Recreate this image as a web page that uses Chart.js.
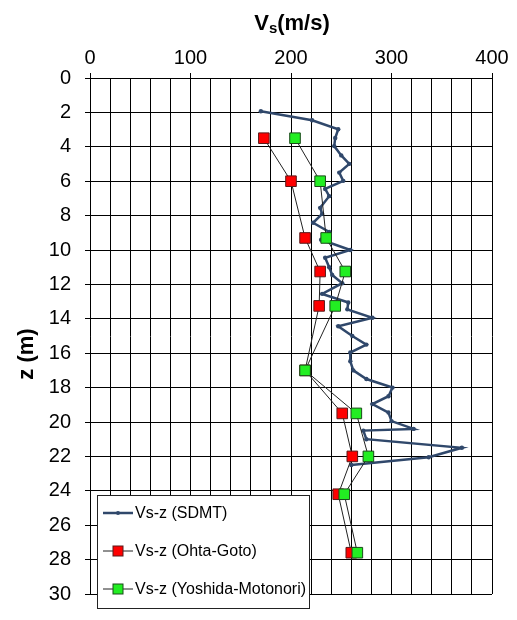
<!DOCTYPE html>
<html><head><meta charset="utf-8">
<script src="https://cdn.jsdelivr.net/npm/chart.js@4.4.0/dist/chart.umd.min.js"></script>
<style>html,body{margin:0;padding:0;background:#fff;}#wrap{position:relative;width:517px;height:620px;}</style>
</head><body><div id="wrap"><canvas id="c" width="517" height="620"></canvas></div>
<script>
// ---- data ----
const seriesLabels = ['Vs-z (SDMT)', 'Vs-z (Ohta-Goto)', 'Vs-z (Yoshida-Motonori)'];
const sdmtDepth = [1.93,2.46,2.98,3.49,3.96,4.5,4.99,5.5,5.98,6.45,6.87,7.55,7.9,8.42,8.95,9.4,10.0,10.45,11.0,11.45,11.93,12.55,13.05,13.45,13.94,14.43,15.0,15.5,15.96,16.47,17.0,17.5,18.0,18.5,18.96,19.45,19.95,20.4,20.5,21.0,21.5,22.05,22.5];
const sdmtVs    = [170,221,247,244,243,250,258,248,252,234,238,229,231,222,238,230,259,234,238,241,251,231,257,256,281,247,261,275,259,259,262,275,301,297,281,297,300,322,272,275,370,337,260];
const empDepth  = [3.5,6.0,9.3,11.25,13.25,17.0,19.5,22.0,24.2,27.6];
const ohtaVs    = [173,200,214,229,228,214,251,261,247,260];
const yoshidaVs = [204,229,235,254,244,214,265,277,253,266];
const xMin = 0, xMax = 400, xGridStep = 20, xLabelStep = 100;
const yMin = 0, yMax = 30, yStep = 2;
const xTitleParts = ['V', 's', '(m/s)'];
const yTitleText = 'z (m)';

const pts = (ys, xs) => ys.map((z, i) => ({x: xs[i], y: z}));
const FONT = "'Liberation Sans', Arial, sans-serif";

const titlePlugin = {
  id: 'titles',
  afterDraw(chart) {
    const ctx = chart.ctx;
    ctx.save();
    ctx.fillStyle = '#000';
    ctx.textBaseline = 'alphabetic';
    ctx.textAlign = 'left';
    const big = 'bold 22px ' + FONT, small = 'bold 15px ' + FONT;
    ctx.font = big; const w1 = ctx.measureText(xTitleParts[0]).width, w3 = ctx.measureText(xTitleParts[2]).width;
    ctx.font = small; const w2 = ctx.measureText(xTitleParts[1]).width;
    let x = 292 - (w1 + w2 + w3) / 2; const base = 30;
    ctx.font = big; ctx.fillText(xTitleParts[0], x, base); x += w1;
    ctx.font = small; ctx.fillText(xTitleParts[1], x, base + 3); x += w2;
    ctx.font = big; ctx.fillText(xTitleParts[2], x, base);
    ctx.translate(27, 354); ctx.rotate(-Math.PI / 2);
    ctx.textAlign = 'center'; ctx.textBaseline = 'middle';
    ctx.font = big; ctx.fillText(yTitleText, 0, 0);
    ctx.restore();
  }
};

const legendPlugin = {
  id: 'inLegend',
  afterDatasetsDraw(chart) {
    const ctx = chart.ctx;
    ctx.save();
    ctx.fillStyle = '#fff'; ctx.strokeStyle = '#222'; ctx.lineWidth = 1;
    ctx.fillRect(97.5, 495.5, 212, 113); ctx.strokeRect(97.5, 495.5, 212, 113);
    chart.data.datasets.forEach((ds, i) => {
      const y = 513 + i * 38;
      ctx.strokeStyle = ds.borderColor; ctx.lineWidth = ds.borderWidth;
      ctx.beginPath(); ctx.moveTo(103, y); ctx.lineTo(133, y); ctx.stroke();
      ctx.fillStyle = ds.pointBackgroundColor; ctx.strokeStyle = ds.pointBorderColor; ctx.lineWidth = ds.pointBorderWidth;
      if (ds.pointStyle === 'rect') {
        ctx.fillRect(113, y - 5, 10, 10); ctx.strokeRect(113, y - 5, 10, 10);
      } else {
        ctx.beginPath(); ctx.arc(118, y, 2, 0, Math.PI * 2); ctx.fill();
      }
      ctx.fillStyle = '#000'; ctx.font = '16px ' + FONT; ctx.textBaseline = 'middle'; ctx.textAlign = 'left';
      ctx.fillText(ds.label, 135, y + 1);
    });
    ctx.restore();
  }
};

new Chart(document.getElementById('c'), {
  type: 'scatter',
  data: {
    datasets: [
      { label: seriesLabels[0], data: pts(sdmtDepth, sdmtVs), showLine: true, borderColor: '#30486b', borderWidth: 2.5,
        pointStyle: 'circle', pointRadius: 2.2, pointBackgroundColor: '#30486b', pointBorderColor: '#30486b', pointBorderWidth: 0, order: 2 },
      { label: seriesLabels[1], data: pts(empDepth, ohtaVs), showLine: true, borderColor: '#222', borderWidth: 1,
        pointStyle: 'rect', pointRadius: 7.5, pointBackgroundColor: '#ff0000', pointBorderColor: '#5a1a1a', pointBorderWidth: 1, order: 1 },
      { label: seriesLabels[2], data: pts(empDepth, yoshidaVs), showLine: true, borderColor: '#222', borderWidth: 1,
        pointStyle: 'rect', pointRadius: 7.5, pointBackgroundColor: '#22ee22', pointBorderColor: '#1a4a1a', pointBorderWidth: 1, order: 0 }
    ]
  },
  options: {
    responsive: false, animation: false, devicePixelRatio: 1,
    layout: { padding: { left: 0, top: 0, right: 25, bottom: 9 } },
    plugins: { legend: { display: false }, tooltip: { enabled: false } },
    scales: {
      x: {
        type: 'linear', position: 'top', min: xMin, max: xMax,
        ticks: { stepSize: xGridStep, autoSkip: false, maxRotation: 0, padding: 3, color: '#000',
          font: { size: 20, family: FONT },
          callback: v => (v % xLabelStep === 0 ? v : '') },
        grid: { color: '#000', lineWidth: 1, tickLength: 5,
          tickColor: c => (c.tick && c.tick.value % xLabelStep === 0 ? '#000' : 'rgba(0,0,0,0)') },
        border: { color: '#000' },
        afterFit: s => { s.height = 78; }
      },
      y: {
        type: 'linear', reverse: true, min: yMin, max: yMax,
        ticks: { stepSize: yStep, autoSkip: false, padding: 14, color: '#000', font: { size: 20, family: FONT } },
        grid: { color: '#000', lineWidth: 1, tickLength: 5 },
        border: { color: '#000' },
        afterFit: s => { s.width = 90; }
      }
    }
  },
  plugins: [legendPlugin, titlePlugin]
});
</script></body></html>
